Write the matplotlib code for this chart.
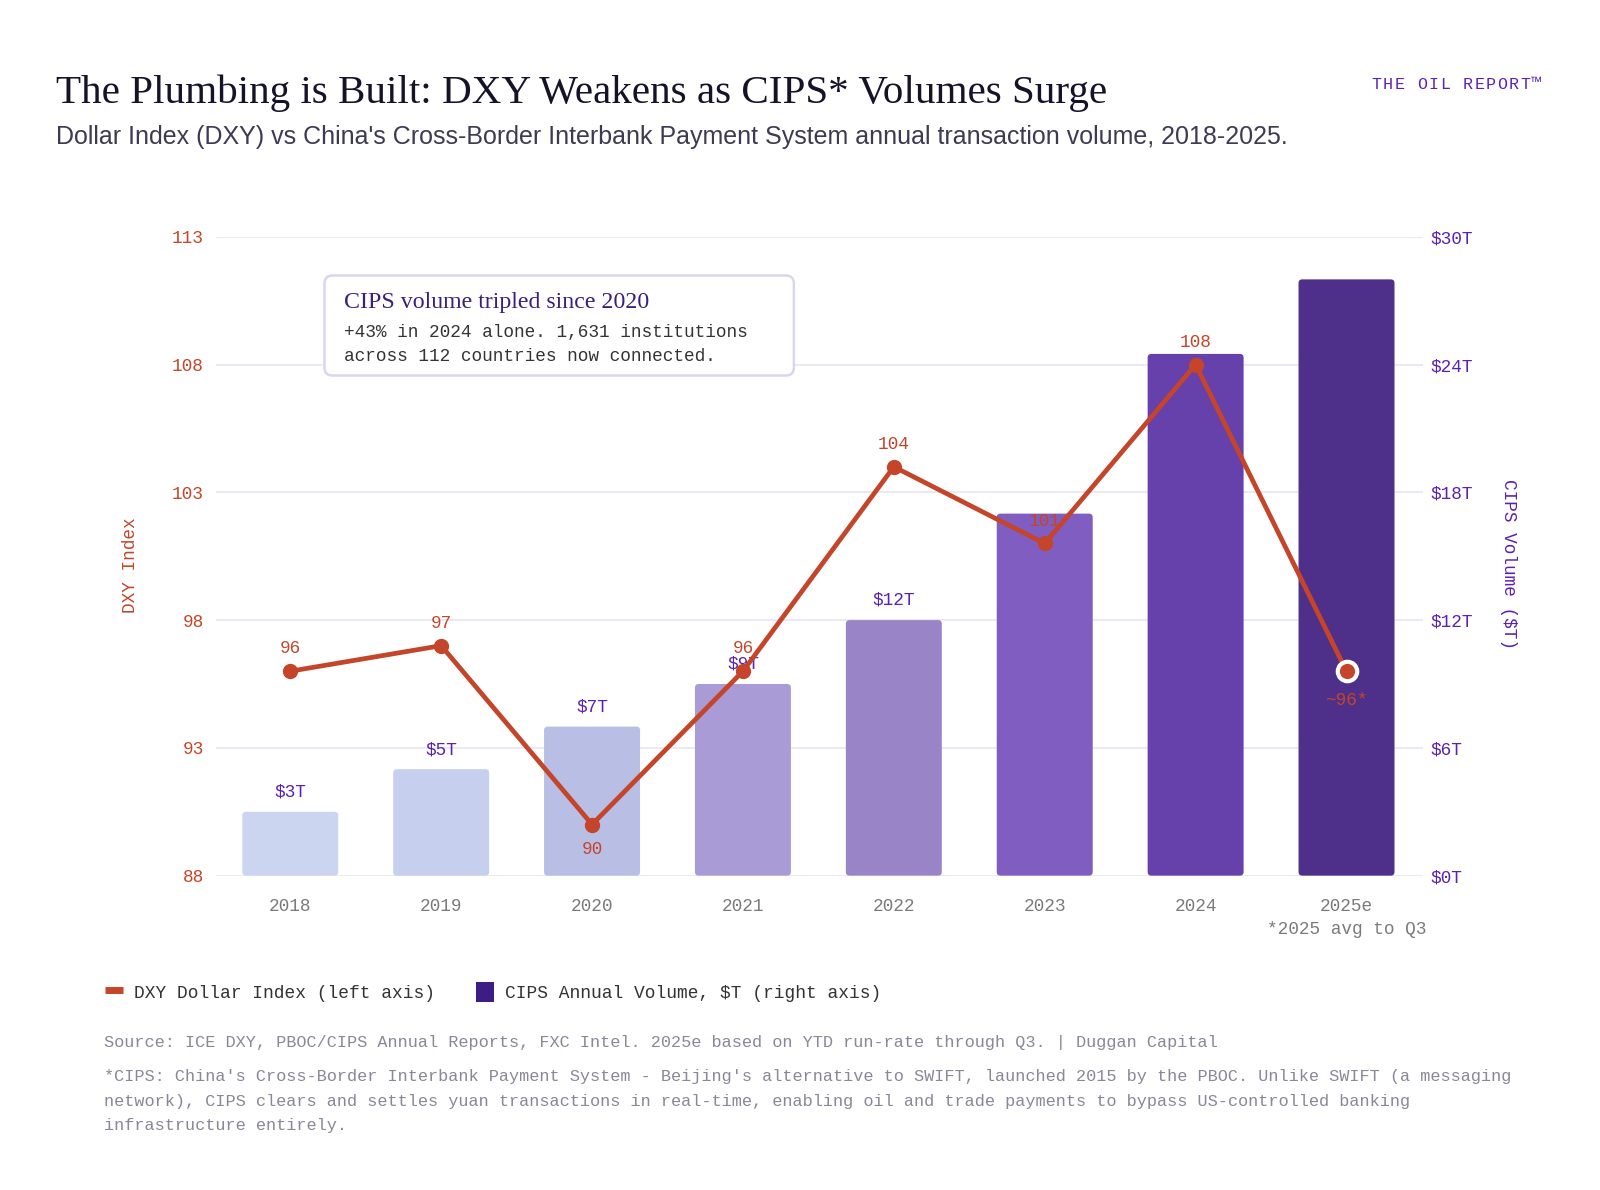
import numpy as np
import matplotlib.pyplot as plt
from matplotlib.lines import Line2D
from matplotlib.patches import Patch, FancyBboxPatch
from matplotlib.transforms import IdentityTransform

years = ["2018", "2019", "2020", "2021", "2022", "2023", "2024", "2025e"]
dxy = [96, 97, 90, 96, 104, 101, 108, 96]
dxy_labels = ["96", "97", "90", "96", "104", "101", "108", "~96*"]
cips = [3, 5, 7, 9, 12, 17, 24.5, 28]
cips_labels = ["$3T", "$5T", "$7T", "$9T", "$12T"]
left_ticks = [88, 93, 98, 103, 108, 113]
right_ticks = [0, 6, 12, 18, 24, 30]

bar_colors = ["#cbd5f0", "#c6d0ee", "#b9bee4", "#a89bd6", "#9a84c8",
              "#7f5dc1", "#6640ab", "#4e2f8a"]
RED = "#c4452a"
PURPLE = "#5b21b6"
MONO = "Liberation Mono"
FOOT = "#8a8796"

# layout measured on a 1568x1166 view of the 1600x1190 canvas
W, H = 1568.0, 1166.0


def fx(x):
    return x / W


def fy(y):
    return 1 - y / H


fig = plt.figure(figsize=(16, 11.9), dpi=100)
ax = fig.add_axes([fx(212), fy(858), fx(1395) - fx(212), fy(232) - fy(858)])
ax2 = ax.twinx()

x = np.arange(len(years))
ax.set_xlim(-0.49, 7.51)
ax2.set_ylim(0, 30)

# bars on the right axis, swapped for rounded boxes of the same size
bars = ax2.bar(x, cips, width=0.636, color=bar_colors, zorder=2)
ext = ax2.get_window_extent()
aspect = (30 / ext.height) / (8.0 / ext.width)
for r in bars:
    r.set_visible(False)
    ax2.add_patch(FancyBboxPatch((r.get_x(), r.get_y()), r.get_width(),
                                 r.get_height(),
                                 boxstyle="round,pad=0,rounding_size=0.025",
                                 mutation_aspect=aspect,
                                 facecolor=r.get_facecolor(),
                                 edgecolor="none", zorder=2))
for i, lab in enumerate(cips_labels):
    ax2.annotate(lab, (x[i], cips[i]), xytext=(0, 8), textcoords="offset points",
                 ha="center", va="bottom", color=PURPLE, fontsize=12.8,
                 family=MONO, zorder=3)
ax2.set_yticks(right_ticks)
ax2.set_yticklabels([f"${t}T" for t in right_ticks])
ax2.grid(axis="y", color="#ece9f7", lw=1.5)
ax2.set_axisbelow(True)

# line on the left axis, drawn above the bars
ax.set_zorder(ax2.get_zorder() + 1)
ax.patch.set_visible(False)
ax.plot(x, dxy, color=RED, lw=3.4, zorder=4)
ax.plot(x[:-1], dxy[:-1], "o", color=RED, ms=10, zorder=5)
ax.plot(x[-1:], dxy[-1:], "o", color=RED, ms=14, mec="white", mew=3, zorder=5)
for i, (v, lab) in enumerate(zip(dxy, dxy_labels)):
    if lab == "~96*":
        dy = -15
    elif lab == "90":
        dy = -12
    else:
        dy = 10
    ax.annotate(lab, (x[i], v), xytext=(0, dy),
                textcoords="offset points", ha="center",
                va="top" if dy < 0 else "bottom", color=RED,
                fontsize=12.8, family=MONO, zorder=6)
ax.set_ylim(88, 113)
ax.set_yticks(left_ticks)
ax.set_xticks(x)
ax.set_xticklabels(years)

for a in (ax, ax2):
    for s in a.spines.values():
        s.set_visible(False)
ax.tick_params(axis="y", length=0, pad=9, labelcolor=RED, labelsize=12.8)
ax.tick_params(axis="x", length=0, pad=16, labelcolor="#7a7a7a", labelsize=12.8)
ax2.tick_params(axis="y", length=0, pad=5, labelcolor=PURPLE, labelsize=12.8)
for lbl in ax.get_xticklabels() + ax.get_yticklabels() + ax2.get_yticklabels():
    lbl.set_family(MONO)

ax.text(7, -0.085, "*2025 avg to Q3", transform=ax.get_xaxis_transform(),
        ha="center", va="center", color="#7a7a7a", fontsize=12.8, family=MONO)

fig.text(fx(128), fy(554), "DXY Index", rotation=90, ha="center",
         va="center", color=RED, fontsize=12.8, family=MONO)
fig.text(fx(1478), fy(553), "CIPS Volume ($T)", rotation=270,
         ha="center", va="center", color=PURPLE, fontsize=12.8, family=MONO)

# callout box (real pixel coords)
k = 1600 / W
box = FancyBboxPatch((318 * k, 1190 - 368 * k), 460 * k, 98 * k,
                     boxstyle="round,pad=0,rounding_size=8",
                     transform=IdentityTransform(), facecolor="white",
                     edgecolor="#dcd4f2", lw=1.8, zorder=10)
fig.patches.append(box)
fig.text(fx(337), fy(302), "CIPS volume tripled since 2020",
         family="Liberation Serif", fontsize=17.2, color="#3b1f7a",
         va="baseline", zorder=11)
fig.text(fx(337), fy(330), "+43% in 2024 alone. 1,631 institutions",
         family=MONO, fontsize=12.8, color="#333333", va="baseline", zorder=11)
fig.text(fx(337), fy(354), "across 112 countries now connected.",
         family=MONO, fontsize=12.8, color="#333333", va="baseline", zorder=11)

# titles
fig.text(fx(55), fy(101),
         "The Plumbing is Built: DXY Weakens as CIPS* Volumes Surge",
         family="Liberation Serif", fontsize=29.6, color="#161328", va="baseline")
fig.text(fx(55), fy(141),
         "Dollar Index (DXY) vs China's Cross-Border Interbank Payment System "
         "annual transaction volume, 2018-2025.",
         family="Liberation Sans", fontsize=18, color="#3d3a52", va="baseline")
brand = "THE OIL REPORT\u2122"
for j, ch in enumerate(brand):
    fig.text(fx(1344 + 11.2 * j), fy(87), ch, family=MONO, fontsize=12,
             color=PURPLE, ha="left", va="baseline")

# legend
handles = [Line2D([], [], color=RED, lw=5, solid_capstyle="butt"),
           Patch(facecolor="#3d1c84", edgecolor="none")]
fig.legend(handles, ["DXY Dollar Index (left axis)",
                     "CIPS Annual Volume, $T (right axis)"],
           loc="center left", bbox_to_anchor=(fx(103), fy(972)),
           borderpad=0, borderaxespad=0,
           ncol=2, frameon=False, handlelength=1.0, handleheight=1.3,
           handletextpad=0.62, columnspacing=2.3,
           prop={"family": MONO, "size": 12.9}, labelcolor="#333333")

# footer
fig.text(fx(102), fy(1021),
         "Source: ICE DXY, PBOC/CIPS Annual Reports, FXC Intel. 2025e based on "
         "YTD run-rate through Q3. | Duggan Capital",
         family=MONO, fontsize=12.2, color=FOOT, va="center")
note_lines = [
    "*CIPS: China's Cross-Border Interbank Payment System - Beijing's "
    "alternative to SWIFT, launched 2015 by the PBOC. Unlike SWIFT (a messaging",
    "network), CIPS clears and settles yuan transactions in real-time, "
    "enabling oil and trade payments to bypass US-controlled banking",
    "infrastructure entirely.",
]
for j, line in enumerate(note_lines):
    fig.text(fx(102), fy(1055 + 24 * j), line, family=MONO, fontsize=12.2,
             color=FOOT, va="center")

fig.savefig("out.png", dpi=100, facecolor="white")
